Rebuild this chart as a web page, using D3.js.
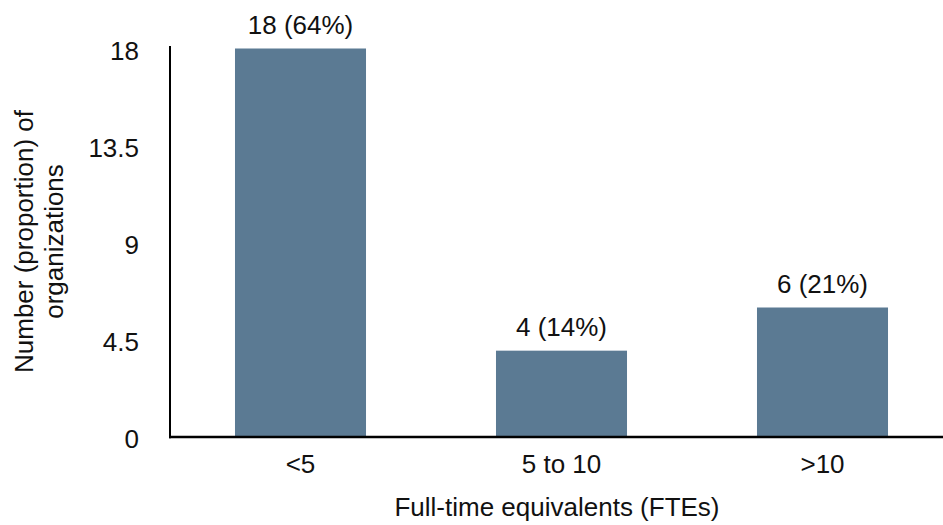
<!DOCTYPE html>
<html>
<head>
<meta charset="utf-8">
<script src="https://cdn.jsdelivr.net/npm/d3@7"></script>
<style>
  html, body { margin: 0; padding: 0; background: #fff; }
  svg { display: block; font-family: "Liberation Sans", Arial, Helvetica, sans-serif; }
</style>
</head>
<body>
<svg id="chart" width="943" height="525"></svg>
<script>
// FTE bands and the number of organizations in each
const categories = ["<5", "5 to 10", ">10"];
const counts = [18, 4, 6];
const shares = ["64%", "14%", "21%"];
const yTicks = [0, 4.5, 9, 13.5, 18];

const svg = d3.select("#chart");
const fontSize = 26;

const x = d3.scaleBand()
  .domain(categories)
  .range([170, 953])
  .paddingInner(0.498)
  .paddingOuter(0.249);

const y = d3.scaleLinear()
  .domain([0, 18])
  .range([437, 48.5]);

// Bars
svg.append("g")
  .selectAll("rect")
  .data(categories)
  .join("rect")
  .attr("x", d => x(d))
  .attr("width", x.bandwidth())
  .attr("y", (d, i) => y(counts[i]))
  .attr("height", (d, i) => y(0) - y(counts[i]))
  .attr("fill", "#5b7a93");

// Value labels above bars
svg.append("g")
  .selectAll("text")
  .data(categories)
  .join("text")
  .attr("x", d => x(d) + x.bandwidth() / 2)
  .attr("y", (d, i) => y(counts[i]) - 15)
  .attr("text-anchor", "middle")
  .attr("font-size", fontSize)
  .attr("fill", "#111")
  .text((d, i) => `${counts[i]} (${shares[i]})`);

// Y axis: line plus tick labels, no tick marks
const yAxis = d3.axisLeft(y)
  .tickValues(yTicks)
  .tickFormat(d3.format("~g"))
  .tickSize(0)
  .tickPadding(31);

const gy = svg.append("g")
  .attr("transform", "translate(170,0)")
  .call(yAxis);
gy.select(".domain").remove();
gy.selectAll("text")
  .attr("font-size", fontSize)
  .attr("font-family", "Liberation Sans, Arial, sans-serif")
  .attr("fill", "#111")
  .attr("dy", "0.42em");

svg.append("line")
  .attr("x1", 170).attr("x2", 170)
  .attr("y1", y(18) - 2.5).attr("y2", y(0) + 1.2)
  .attr("stroke", "#000")
  .attr("stroke-width", 2);

// X axis: baseline plus category labels
const xAxis = d3.axisBottom(x).tickSize(0).tickPadding(18);
const gx = svg.append("g")
  .attr("transform", `translate(0,${y(0)})`)
  .call(xAxis);
gx.select(".domain").remove();
gx.selectAll("text")
  .attr("font-size", fontSize)
  .attr("font-family", "Liberation Sans, Arial, sans-serif")
  .attr("fill", "#111")
  .attr("dy", "0.71em");

svg.append("line")
  .attr("x1", 169).attr("x2", 953)
  .attr("y1", y(0)).attr("y2", y(0))
  .attr("stroke", "#000")
  .attr("stroke-width", 2.6);

// Axis titles
svg.append("text")
  .attr("x", 557)
  .attr("y", 516)
  .attr("text-anchor", "middle")
  .attr("font-size", fontSize)
  .attr("fill", "#111")
  .text("Full-time equivalents (FTEs)");

const yTitle = svg.append("text")
  .attr("transform", "translate(0,241.5) rotate(-90)")
  .attr("text-anchor", "middle")
  .attr("font-size", fontSize)
  .attr("fill", "#111");
yTitle.append("tspan").attr("x", 0).attr("y", 33).text("Number (proportion) of");
yTitle.append("tspan").attr("x", 0).attr("y", 63).text("organizations");
</script>
</body>
</html>
